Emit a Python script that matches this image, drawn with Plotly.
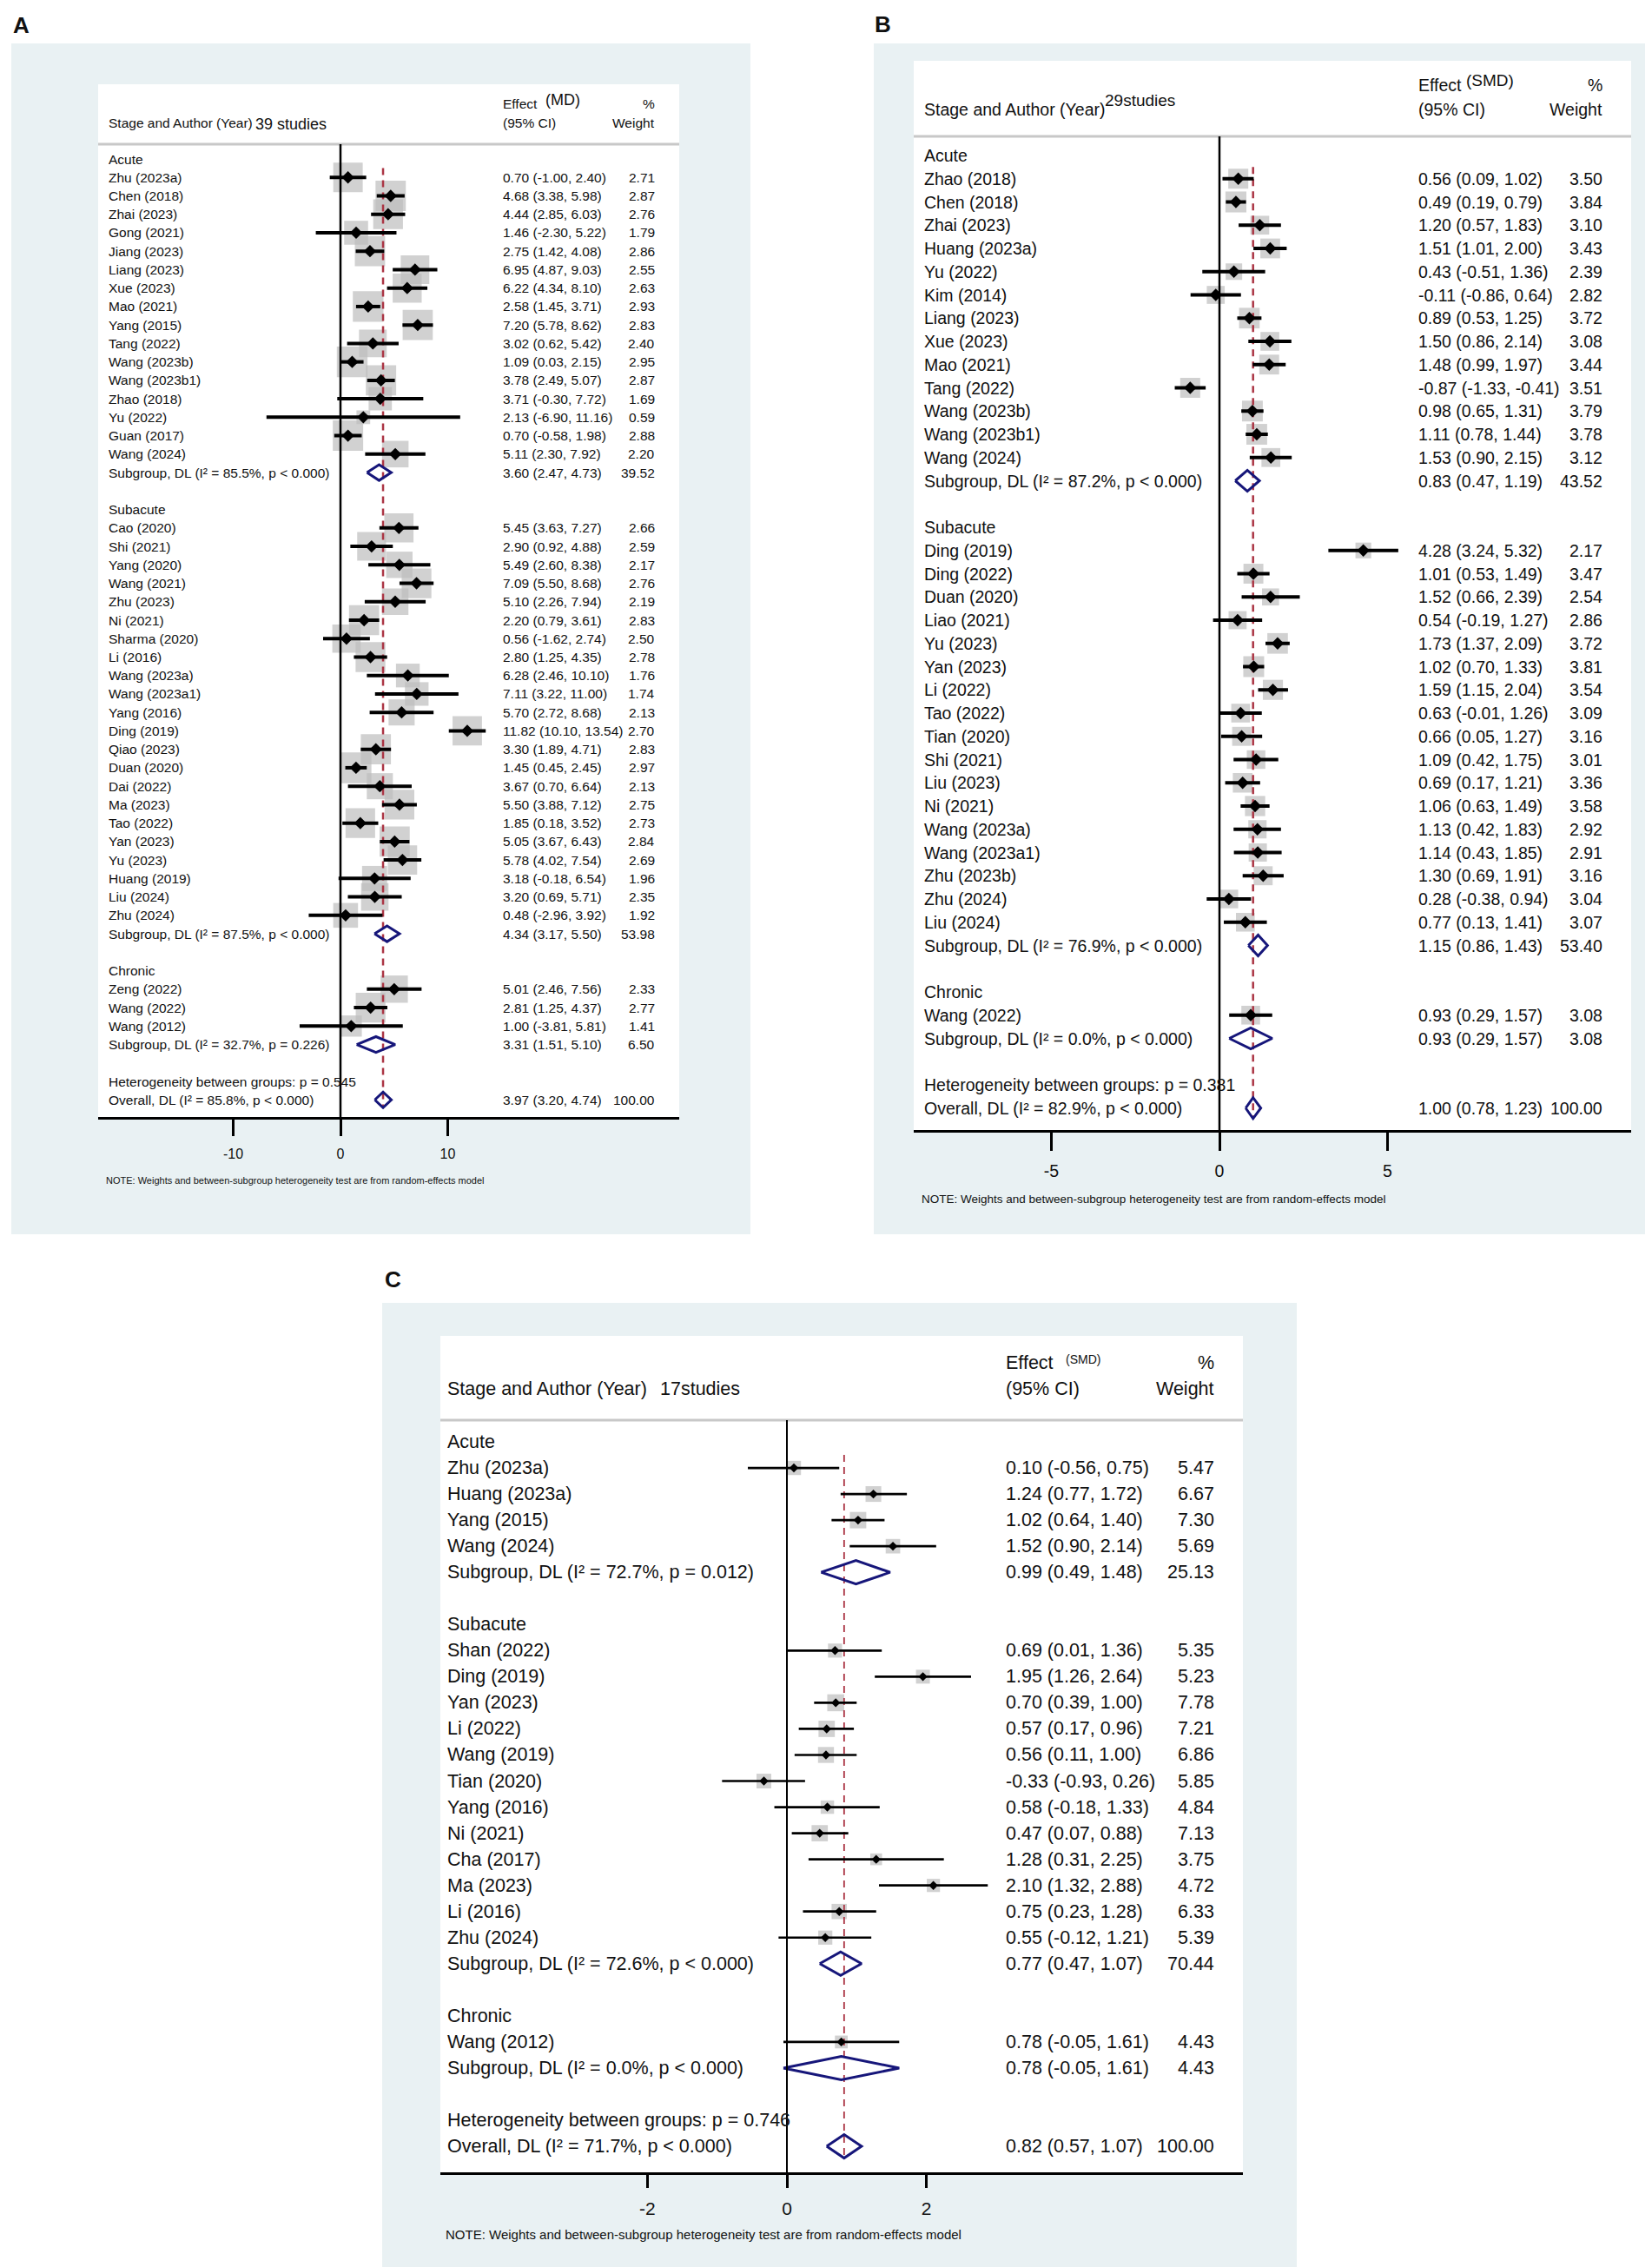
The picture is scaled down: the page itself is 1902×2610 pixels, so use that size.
import math
import plotly.graph_objects as go

W, H = 1902, 2610

# ---------------- Panel A (MD) data ----------------
A_groups = ["Acute", "Subacute", "Chronic"]
A_group_n = [16, 22, 3]
A_names = ["Zhu (2023a)", "Chen (2018)", "Zhai (2023)", "Gong (2021)", "Jiang (2023)", "Liang (2023)",
           "Xue (2023)", "Mao (2021)", "Yang (2015)", "Tang (2022)", "Wang (2023b)", "Wang (2023b1)",
           "Zhao (2018)", "Yu (2022)", "Guan (2017)", "Wang (2024)",
           "Cao (2020)", "Shi (2021)", "Yang (2020)", "Wang (2021)", "Zhu (2023)", "Ni (2021)",
           "Sharma (2020)", "Li (2016)", "Wang (2023a)", "Wang (2023a1)", "Yang (2016)", "Ding (2019)",
           "Qiao (2023)", "Duan (2020)", "Dai (2022)", "Ma (2023)", "Tao (2022)", "Yan (2023)",
           "Yu (2023)", "Huang (2019)", "Liu (2024)", "Zhu (2024)",
           "Zeng (2022)", "Wang (2022)", "Wang (2012)"]
A_est = [0.70, 4.68, 4.44, 1.46, 2.75, 6.95, 6.22, 2.58, 7.20, 3.02, 1.09, 3.78, 3.71, 2.13, 0.70, 5.11,
         5.45, 2.90, 5.49, 7.09, 5.10, 2.20, 0.56, 2.80, 6.28, 7.11, 5.70, 11.82, 3.30, 1.45, 3.67, 5.50,
         1.85, 5.05, 5.78, 3.18, 3.20, 0.48,
         5.01, 2.81, 1.00]
A_lo = [-1.00, 3.38, 2.85, -2.30, 1.42, 4.87, 4.34, 1.45, 5.78, 0.62, 0.03, 2.49, -0.30, -6.90, -0.58, 2.30,
        3.63, 0.92, 2.60, 5.50, 2.26, 0.79, -1.62, 1.25, 2.46, 3.22, 2.72, 10.10, 1.89, 0.45, 0.70, 3.88,
        0.18, 3.67, 4.02, -0.18, 0.69, -2.96,
        2.46, 1.25, -3.81]
A_hi = [2.40, 5.98, 6.03, 5.22, 4.08, 9.03, 8.10, 3.71, 8.62, 5.42, 2.15, 5.07, 7.72, 11.16, 1.98, 7.92,
        7.27, 4.88, 8.38, 8.68, 7.94, 3.61, 2.74, 4.35, 10.10, 11.00, 8.68, 13.54, 4.71, 2.45, 6.64, 7.12,
        3.52, 6.43, 7.54, 6.54, 5.71, 3.92,
        7.56, 4.37, 5.81]
A_wt = [2.71, 2.87, 2.76, 1.79, 2.86, 2.55, 2.63, 2.93, 2.83, 2.40, 2.95, 2.87, 1.69, 0.59, 2.88, 2.20,
        2.66, 2.59, 2.17, 2.76, 2.19, 2.83, 2.50, 2.78, 1.76, 1.74, 2.13, 2.70, 2.83, 2.97, 2.13, 2.75,
        2.73, 2.84, 2.69, 1.96, 2.35, 1.92,
        2.33, 2.77, 1.41]
A_sub_i2 = ["85.5%", "87.5%", "32.7%"]
A_sub_p = ["p &lt; 0.000", "p &lt; 0.000", "p = 0.226"]
A_sub_est = [3.60, 4.34, 3.31]
A_sub_lo = [2.47, 3.17, 1.51]
A_sub_hi = [4.73, 5.50, 5.10]
A_sub_wt = [39.52, 53.98, 6.50]
A_het_p = "0.545"
A_ov_i2, A_ov_p = "85.8%", "p &lt; 0.000"
A_ov_est, A_ov_lo, A_ov_hi, A_ov_wt = 3.97, 3.20, 4.74, 100.00
A_ticks = [-10, 0, 10]

# ---------------- Panel B (SMD) data ----------------
B_groups = ["Acute", "Subacute", "Chronic"]
B_group_n = [13, 17, 1]
B_names = ["Zhao (2018)", "Chen (2018)", "Zhai (2023)", "Huang (2023a)", "Yu (2022)", "Kim (2014)",
           "Liang (2023)", "Xue (2023)", "Mao (2021)", "Tang (2022)", "Wang (2023b)", "Wang (2023b1)",
           "Wang (2024)",
           "Ding (2019)", "Ding (2022)", "Duan (2020)", "Liao (2021)", "Yu (2023)", "Yan (2023)", "Li (2022)",
           "Tao (2022)", "Tian (2020)", "Shi (2021)", "Liu (2023)", "Ni (2021)", "Wang (2023a)",
           "Wang (2023a1)", "Zhu (2023b)", "Zhu (2024)", "Liu (2024)",
           "Wang (2022)"]
B_est = [0.56, 0.49, 1.20, 1.51, 0.43, -0.11, 0.89, 1.50, 1.48, -0.87, 0.98, 1.11, 1.53,
         4.28, 1.01, 1.52, 0.54, 1.73, 1.02, 1.59, 0.63, 0.66, 1.09, 0.69, 1.06, 1.13, 1.14, 1.30, 0.28, 0.77,
         0.93]
B_lo = [0.09, 0.19, 0.57, 1.01, -0.51, -0.86, 0.53, 0.86, 0.99, -1.33, 0.65, 0.78, 0.90,
        3.24, 0.53, 0.66, -0.19, 1.37, 0.70, 1.15, -0.01, 0.05, 0.42, 0.17, 0.63, 0.42, 0.43, 0.69, -0.38, 0.13,
        0.29]
B_hi = [1.02, 0.79, 1.83, 2.00, 1.36, 0.64, 1.25, 2.14, 1.97, -0.41, 1.31, 1.44, 2.15,
        5.32, 1.49, 2.39, 1.27, 2.09, 1.33, 2.04, 1.26, 1.27, 1.75, 1.21, 1.49, 1.83, 1.85, 1.91, 0.94, 1.41,
        1.57]
B_wt = [3.50, 3.84, 3.10, 3.43, 2.39, 2.82, 3.72, 3.08, 3.44, 3.51, 3.79, 3.78, 3.12,
        2.17, 3.47, 2.54, 2.86, 3.72, 3.81, 3.54, 3.09, 3.16, 3.01, 3.36, 3.58, 2.92, 2.91, 3.16, 3.04, 3.07,
        3.08]
B_sub_i2 = ["87.2%", "76.9%", "0.0%"]
B_sub_p = ["p &lt; 0.000", "p &lt; 0.000", "p &lt; 0.000"]
B_sub_est = [0.83, 1.15, 0.93]
B_sub_lo = [0.47, 0.86, 0.29]
B_sub_hi = [1.19, 1.43, 1.57]
B_sub_wt = [43.52, 53.40, 3.08]
B_het_p = "0.381"
B_ov_i2, B_ov_p = "82.9%", "p &lt; 0.000"
B_ov_est, B_ov_lo, B_ov_hi, B_ov_wt = 1.00, 0.78, 1.23, 100.00
B_ticks = [-5, 0, 5]

# ---------------- Panel C (SMD) data ----------------
C_groups = ["Acute", "Subacute", "Chronic"]
C_group_n = [4, 12, 1]
C_names = ["Zhu (2023a)", "Huang (2023a)", "Yang (2015)", "Wang (2024)",
           "Shan (2022)", "Ding (2019)", "Yan (2023)", "Li (2022)", "Wang (2019)", "Tian (2020)",
           "Yang (2016)", "Ni (2021)", "Cha (2017)", "Ma (2023)", "Li (2016)", "Zhu (2024)",
           "Wang (2012)"]
C_est = [0.10, 1.24, 1.02, 1.52,
         0.69, 1.95, 0.70, 0.57, 0.56, -0.33, 0.58, 0.47, 1.28, 2.10, 0.75, 0.55,
         0.78]
C_lo = [-0.56, 0.77, 0.64, 0.90,
        0.01, 1.26, 0.39, 0.17, 0.11, -0.93, -0.18, 0.07, 0.31, 1.32, 0.23, -0.12,
        -0.05]
C_hi = [0.75, 1.72, 1.40, 2.14,
        1.36, 2.64, 1.00, 0.96, 1.00, 0.26, 1.33, 0.88, 2.25, 2.88, 1.28, 1.21,
        1.61]
C_wt = [5.47, 6.67, 7.30, 5.69,
        5.35, 5.23, 7.78, 7.21, 6.86, 5.85, 4.84, 7.13, 3.75, 4.72, 6.33, 5.39,
        4.43]
C_sub_i2 = ["72.7%", "72.6%", "0.0%"]
C_sub_p = ["p = 0.012", "p &lt; 0.000", "p &lt; 0.000"]
C_sub_est = [0.99, 0.77, 0.78]
C_sub_lo = [0.49, 0.47, -0.05]
C_sub_hi = [1.48, 1.07, 1.61]
C_sub_wt = [25.13, 70.44, 4.43]
C_het_p = "0.746"
C_ov_i2, C_ov_p = "71.7%", "p &lt; 0.000"
C_ov_est, C_ov_lo, C_ov_hi, C_ov_wt = 0.82, 0.57, 1.07, 100.00
C_ticks = [-2, 0, 2]

NOTE = "NOTE: Weights and between-subgroup heterogeneity test are from random-effects model"

FONT = "Liberation Sans, Arial, sans-serif"
BG = "#e9f1f3"
GRAY_BOX = "#bdbdbd"
RED = "#ab3544"
NAVY = "#16167a"


def P(x):
    return x / W


def Q(y):
    return 1 - y / H


panels = [
    dict(letter="A", letter_xy=(6, 21), groups=A_groups, group_n=A_group_n, names=A_names, est=A_est, lo=A_lo,
         hi=A_hi, wt=A_wt, sub_i2=A_sub_i2, sub_p=A_sub_p, sub_est=A_sub_est, sub_lo=A_sub_lo, sub_hi=A_sub_hi,
         sub_wt=A_sub_wt, het_p=A_het_p, ov=(A_ov_i2, A_ov_p, A_ov_est, A_ov_lo, A_ov_hi, A_ov_wt), ticks=A_ticks,
         bg=(5, 42, 856, 1413), box=(105, 89, 774, 1278), zero=384, unit=12.35, row0=175, dy=21.24, sep=158,
         xlab=116, xeff=570, xwt=747, fs=15.5, hdr_y=(111, 134), n_text="39 studies", n_x=285, n_y=135, n_fs=18,
         md_text="(MD)", md_x=619, md_y=107, md_fs=18, tickfs=16, ticklen=19, tickw=3, axw=3,
         note_xy=(113, 1351), note_fs=11, box_k=20.6, dia=11, ciw=4, zw=2.5, rw=2.5, dh=0.85, pw=3,
         stand=7),
    dict(letter="B", letter_xy=(998, 20), groups=B_groups, group_n=B_group_n, names=B_names, est=B_est, lo=B_lo,
         hi=B_hi, wt=B_wt, sub_i2=B_sub_i2, sub_p=B_sub_p, sub_est=B_sub_est, sub_lo=B_sub_lo, sub_hi=B_sub_hi,
         sub_wt=B_sub_wt, het_p=B_het_p, ov=(B_ov_i2, B_ov_p, B_ov_est, B_ov_lo, B_ov_hi, B_ov_wt), ticks=B_ticks,
         bg=(998, 42, 1899, 1413), box=(1044, 62, 1870, 1293), zero=1396, unit=38.7, row0=171, dy=26.75, sep=149,
         xlab=1055, xeff=1624, xwt=1838, fs=19.5, hdr_y=(90, 118), n_text="29studies", n_x=1263, n_y=108, n_fs=19,
         md_text="(SMD)", md_x=1679, md_y=84, md_fs=19, tickfs=19.5, ticklen=21, tickw=3, axw=3,
         note_xy=(1052, 1372), note_fs=13.5, box_k=12.3, dia=11, ciw=4, zw=2.5, rw=2.5, dh=0.9, pw=3,
         stand=7),
    dict(letter="C", letter_xy=(434, 1465), groups=C_groups, group_n=C_group_n, names=C_names, est=C_est, lo=C_lo,
         hi=C_hi, wt=C_wt, sub_i2=C_sub_i2, sub_p=C_sub_p, sub_est=C_sub_est, sub_lo=C_sub_lo, sub_hi=C_sub_hi,
         sub_wt=C_sub_wt, het_p=C_het_p, ov=(C_ov_i2, C_ov_p, C_ov_est, C_ov_lo, C_ov_hi, C_ov_wt), ticks=C_ticks,
         bg=(432, 1492, 1485, 2606), box=(499, 1530, 1423, 2493), zero=898, unit=80.3, row0=1652, dy=30.04,
         sep=1627, xlab=506, xeff=1149, xwt=1391, fs=21.5, hdr_y=(1561, 1591), n_text="17studies", n_x=751,
         n_y=1591, n_fs=21.5, md_text="(SMD)", md_x=1218, md_y=1557, md_fs=14, tickfs=21, ticklen=15, tickw=2.5,
         axw=2.5, note_xy=(504, 2564), note_fs=15, box_k=7.0, dia=8, ciw=2.7, zw=2, rw=1.8, dh=0.9, pw=3,
         stand=6),
]

fig = go.Figure()
shapes = []
annotations = []
layout_axes = {}

for k, p in enumerate(panels, start=1):
    xa = "x" if k == 1 else f"x{k}"
    ya = "y" if k == 1 else f"y{k}"
    xname = "xaxis" if k == 1 else f"xaxis{k}"
    yname = "yaxis" if k == 1 else f"yaxis{k}"
    bx0, by0, bx1, by1 = p["box"]
    row0, dy = p["row0"], p["dy"]

    def R(ypx, row0=row0, dy=dy):
        return (ypx - row0) / dy

    xr = [(bx0 - p["zero"]) / p["unit"], (bx1 - p["zero"]) / p["unit"]]
    yr = [R(by1), R(by0)]

    layout_axes[xname] = dict(domain=[P(bx0), P(bx1)], range=xr, anchor=ya, showgrid=False, zeroline=False,
                              showline=True, linecolor="black", linewidth=p["axw"], ticks="outside",
                              ticklen=p["ticklen"], tickwidth=p["tickw"], tickcolor="black",
                              tickvals=p["ticks"], ticktext=[str(t) for t in p["ticks"]],
                              tickfont=dict(family=FONT, size=p["tickfs"], color="#111"),
                              ticklabelstandoff=p["stand"], fixedrange=True)
    layout_axes[yname] = dict(domain=[Q(by1), Q(by0)], range=yr, anchor=xa, visible=False, fixedrange=True)

    # backgrounds
    bgx0, bgy0, bgx1, bgy1 = p["bg"]
    shapes.append(dict(type="rect", xref="paper", yref="paper", x0=P(bgx0), x1=P(bgx1), y0=Q(bgy1), y1=Q(bgy0),
                       fillcolor=BG, line=dict(width=0), layer="below"))
    shapes.append(dict(type="rect", xref="paper", yref="paper", x0=P(bx0), x1=P(bx1), y0=Q(by1), y1=Q(by0),
                       fillcolor="white", line=dict(width=0), layer="below"))
    # header separator
    shapes.append(dict(type="line", xref=f"{xa} domain", yref=ya, x0=0, x1=1, y0=R(p["sep"]), y1=R(p["sep"]),
                       line=dict(color="#c8c8c8", width=3)))
    # zero line
    shapes.append(dict(type="line", xref=xa, yref=ya, x0=0, x1=0, y0=R(p["sep"]), y1=yr[0],
                       line=dict(color="black", width=p["zw"])))

    # ---- row layout ----
    rows_study, rows_sub, rows_group = [], [], []
    r = 0
    i = 0
    for g, n in enumerate(p["group_n"]):
        rows_group.append((g, r))
        r += 1
        for _ in range(n):
            rows_study.append((i, r))
            i += 1
            r += 1
        rows_sub.append((g, r))
        r += 2
    r_het = r
    r_ov = r + 1

    fs = p["fs"]

    def text(x, y, s, anchor="left", size=fs, yref=ya):
        annotations.append(dict(x=P(x), y=y, xref="paper", yref=yref, text=s, showarrow=False,
                                xanchor=anchor, yanchor="middle", borderpad=0,
                                font=dict(family=FONT, size=size, color="#111")))

    def ptext(x, ypx, s, anchor="left", size=fs, bold=False):
        annotations.append(dict(x=P(x), y=Q(ypx), xref="paper", yref="paper", text=s, showarrow=False,
                                xanchor=anchor, yanchor="middle", borderpad=0,
                                font=dict(family=FONT, size=size, color="#111",
                                          weight=("bold" if bold else "normal"))))

    # header text
    ptext(p["xlab"], p["hdr_y"][1], "Stage and Author (Year)")
    ptext(p["n_x"], p["n_y"], p["n_text"], size=p["n_fs"])
    ptext(p["xeff"], p["hdr_y"][0], "Effect")
    ptext(p["md_x"], p["md_y"], p["md_text"], size=p["md_fs"])
    ptext(p["xeff"], p["hdr_y"][1], "(95% CI)")
    ptext(p["xwt"], p["hdr_y"][0], "%", anchor="right")
    ptext(p["xwt"], p["hdr_y"][1], "Weight", anchor="right")
    ptext(p["note_xy"][0], p["note_xy"][1], NOTE, size=p["note_fs"])
    lx, ly = p["letter_xy"]
    ptext(lx, ly, p["letter"], size=26, bold=True)

    for g, rr in rows_group:
        text(p["xlab"], rr, p["groups"][g])
    for idx, rr in rows_study:
        text(p["xlab"], rr, p["names"][idx])
        text(p["xeff"], rr, f"{p['est'][idx]:.2f} ({p['lo'][idx]:.2f}, {p['hi'][idx]:.2f})")
        text(p["xwt"], rr, f"{p['wt'][idx]:.2f}", anchor="right")
    for g, rr in rows_sub:
        text(p["xlab"], rr, f"Subgroup, DL (I\u00b2 = {p['sub_i2'][g]}, {p['sub_p'][g]})")
        text(p["xeff"], rr, f"{p['sub_est'][g]:.2f} ({p['sub_lo'][g]:.2f}, {p['sub_hi'][g]:.2f})")
        text(p["xwt"], rr, f"{p['sub_wt'][g]:.2f}", anchor="right")
    ov_i2, ov_p, ov_est, ov_lo, ov_hi, ov_wt = p["ov"]
    text(p["xlab"], r_het, f"Heterogeneity between groups: p = {p['het_p']}")
    text(p["xlab"], r_ov, f"Overall, DL (I\u00b2 = {ov_i2}, {ov_p})")
    text(p["xeff"], r_ov, f"{ov_est:.2f} ({ov_lo:.2f}, {ov_hi:.2f})")
    text(p["xwt"], r_ov, f"{ov_wt:.2f}", anchor="right")

    # ---- marks ----
    sx = [p["est"][idx] for idx, _ in rows_study]
    sy = [rr for _, rr in rows_study]
    sizes = [p["box_k"] * math.sqrt(p["wt"][idx]) for idx, _ in rows_study]
    fig.add_trace(go.Scatter(x=sx, y=sy, mode="markers", xaxis=xa, yaxis=ya, hoverinfo="skip",
                             marker=dict(symbol="square", size=sizes, color=GRAY_BOX, line=dict(width=0))))
    fig.add_trace(go.Scatter(x=[ov_est, ov_est], y=[0.5, r_ov + 0.4], mode="lines", xaxis=xa, yaxis=ya,
                             hoverinfo="skip", line=dict(color=RED, width=p["rw"], dash="8px,6px")))
    cx, cy = [], []
    for idx, rr in rows_study:
        cx += [p["lo"][idx], p["hi"][idx], None]
        cy += [rr, rr, None]
    fig.add_trace(go.Scatter(x=cx, y=cy, mode="lines", xaxis=xa, yaxis=ya, hoverinfo="skip",
                             line=dict(color="black", width=p["ciw"])))
    fig.add_trace(go.Scatter(x=sx, y=sy, mode="markers", xaxis=xa, yaxis=ya, hoverinfo="skip",
                             marker=dict(symbol="diamond", size=p["dia"], color="black", line=dict(width=0))))
    dx, dyy = [], []
    h = p["dh"] / 2
    pooled = [(p["sub_est"][g], p["sub_lo"][g], p["sub_hi"][g], rr) for g, rr in rows_sub]
    pooled.append((ov_est, ov_lo, ov_hi, r_ov))
    for e, l, u, rr in pooled:
        dx += [l, e, u, e, l, None]
        dyy += [rr, rr - h, rr, rr + h, rr, None]
    fig.add_trace(go.Scatter(x=dx, y=dyy, mode="lines", xaxis=xa, yaxis=ya, hoverinfo="skip",
                             line=dict(color=NAVY, width=p["pw"])))

fig.update_layout(width=W, height=H, margin=dict(l=0, r=0, t=0, b=0), showlegend=False,
                  paper_bgcolor="white", plot_bgcolor="rgba(0,0,0,0)", shapes=shapes, annotations=annotations,
                  **layout_axes)
fig.write_html("out.html")
